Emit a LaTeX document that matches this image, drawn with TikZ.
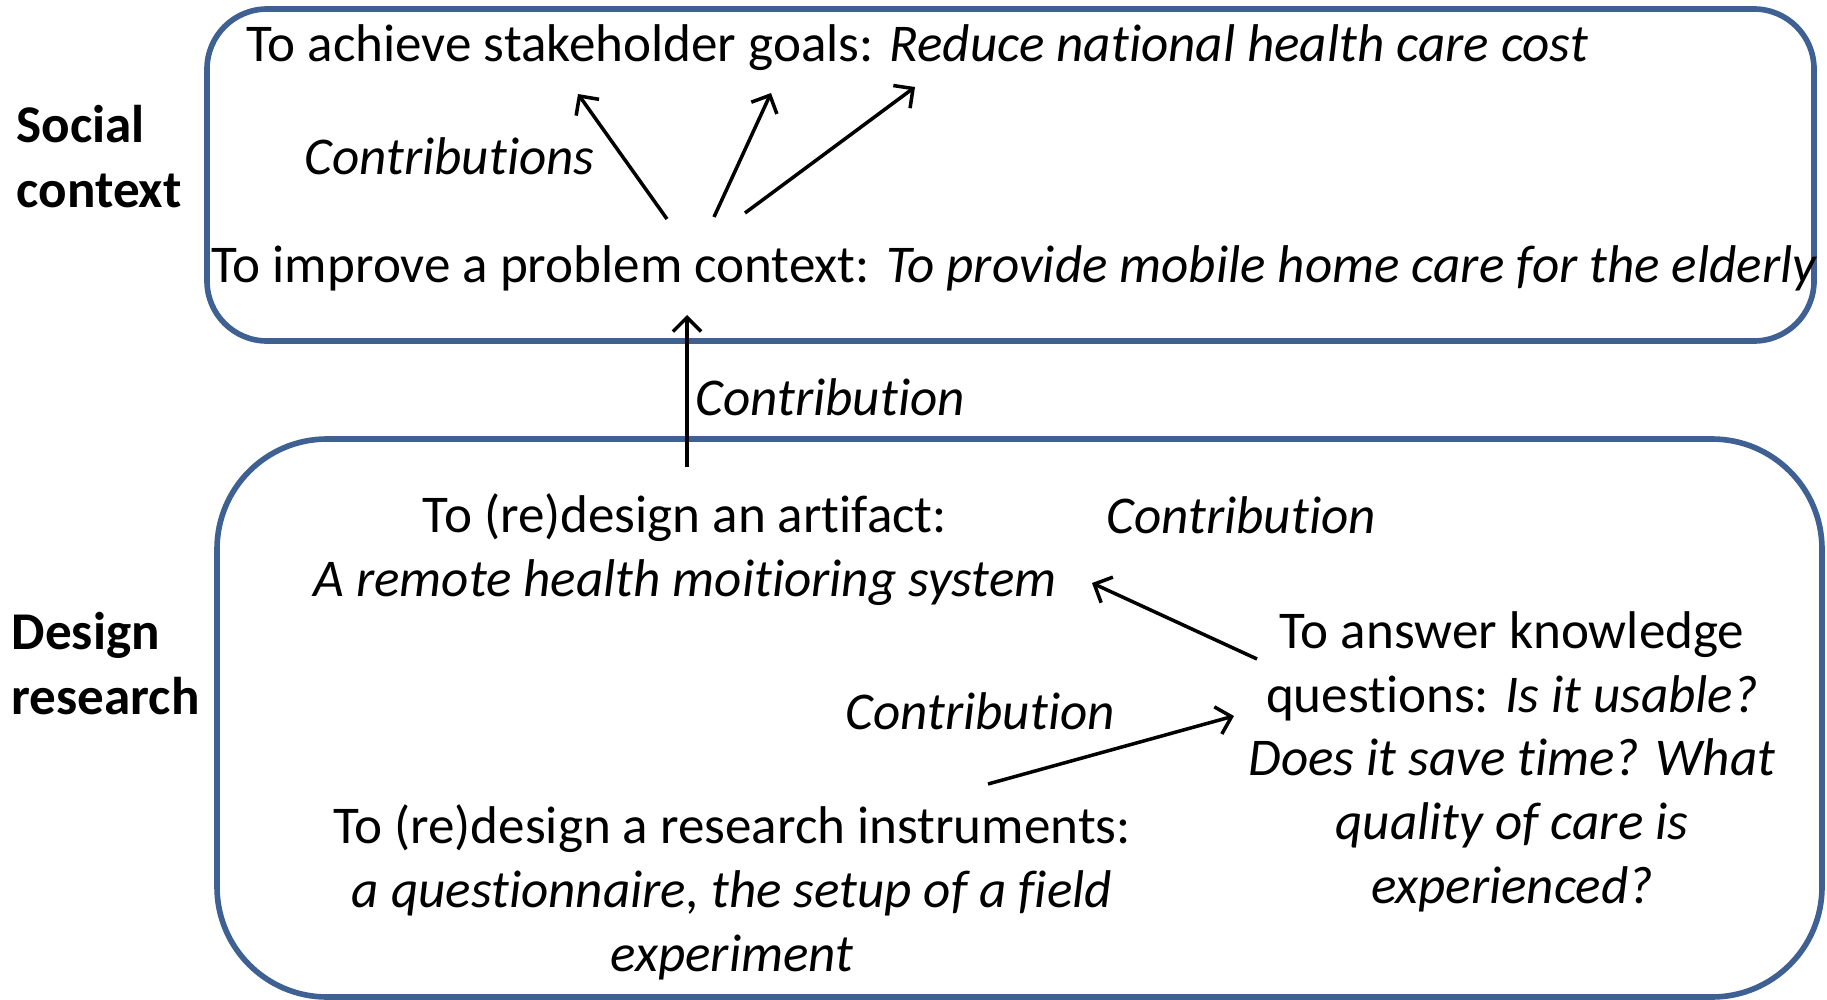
\documentclass[tikz,border=0pt]{standalone}
\usepackage{fontspec}
\setmainfont{Carlito}[Ligatures=NoCommon]
\usetikzlibrary{arrows.meta}
\definecolor{boxblue}{RGB}{62,96,146}

\begin{document}
\begin{tikzpicture}[x=0.01cm, y=-0.01cm,
  every node/.style={font=\fontsize{15.1}{18.1}\selectfont, inner sep=0pt},
  lbl/.style={anchor=base west, align=left, font=\fontsize{15.1}{18.4}\selectfont\bfseries},
  arr/.style={line width=1pt, -{Straight Barb[length=4pt,width=8pt]}}]
\useasboundingbox (0,0) rectangle (1827,1000);
\draw[boxblue, line width=1.6pt, rounded corners=0.6cm] (207,9) rectangle (1814,341);
\draw[boxblue, line width=1.6pt, rounded corners=1.1cm] (217,439) rectangle (1822,997);

\node[lbl] (sc) at (16,207) {Social\\context};
\node[lbl] (dr) at (11,714) {Design\\research};

\node[anchor=base west] (goal) at (246,61) {To achieve stakeholder goals: \textit{Reduce national health care cost}};
\node[anchor=base west] (prob) at (211,282) {To improve a problem context: \textit{To provide mobile home care for the elderly}};
\node[anchor=base west] (cs) at (304,174) {\textit{Contributions}};
\node[anchor=base west] (c1) at (695,415) {\textit{Contribution}};

\node[anchor=base, align=center] (art) at (685,596) {To (re)design an artifact:\\\textit{A remote health moitioring system}};
\node[anchor=base, align=center] (know) at (1512,903) {To answer knowledge\\questions: \textit{Is it usable?}\\\textit{Does it save time? What}\\\textit{quality of care is}\\\textit{experienced?}};
\node[anchor=base, align=center] (instr) at (732,971) {To (re)design a research instruments:\\\textit{a questionnaire, the setup of a field}\\\textit{experiment}};
\node[anchor=base west] (c2) at (1106,533) {\textit{Contribution}};
\node[anchor=base west] (c3) at (845,729) {\textit{Contribution}};

\coordinate (p1) at (667,219);
\coordinate (p2) at (714,217);
\coordinate (p3) at (745,213);
\coordinate (g1) at (578,94);
\coordinate (g2) at (771,93);
\coordinate (g3) at (915,87);
\coordinate (a0) at (687,467);
\coordinate (a1) at (687,315);
\coordinate (k0) at (1257,659);
\coordinate (k1) at (1092,583);
\coordinate (i0) at (988,784);
\coordinate (i1) at (1234,716);

\path[arr]
(p1) edge (g1)
(p2) edge (g2)
(p3) edge (g3)
(a0) edge (a1)
(k0) edge (k1)
(i0) edge (i1);
\end{tikzpicture}
\end{document}
